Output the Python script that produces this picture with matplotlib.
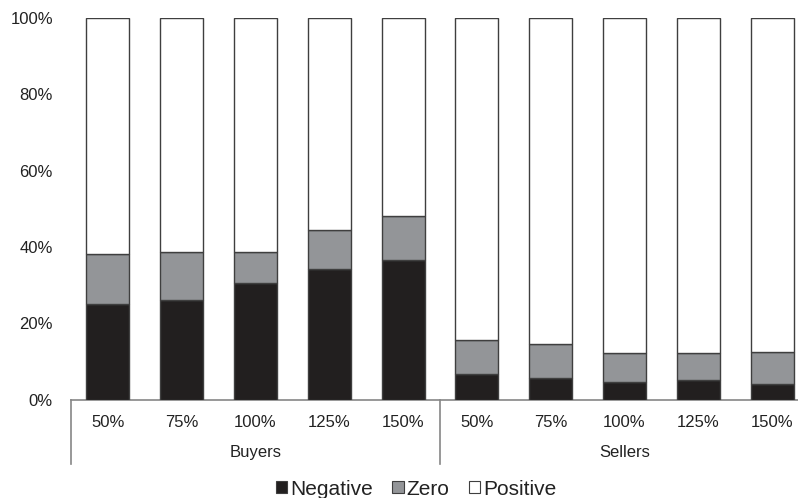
import matplotlib
matplotlib.use("Agg")
import matplotlib.pyplot as plt
from matplotlib.patches import Patch
import numpy as np

plt.rcParams['font.family'] = ['Liberation Sans', 'DejaVu Sans']

# data (percent of participants)
groups = ['Buyers', 'Sellers']
levels = ['50%', '75%', '100%', '125%', '150%']
negative = [25.1, 26.2, 30.5, 34.3, 36.6, 6.6, 5.6, 4.6, 5.1, 4.0]
zero = [13.0, 12.4, 8.2, 10.1, 11.5, 8.9, 9.0, 7.5, 7.0, 8.5]
positive = [100 - n - z for n, z in zip(negative, zero)]

col_neg = '#221f1f'
col_zero = '#939598'
col_pos = '#ffffff'
edge = '#3f3f3f'
txt = '#222222'

fig = plt.figure(figsize=(7.98, 4.98), dpi=100)
ax = fig.add_axes([71 / 798, 98.5 / 498, 738 / 798, 381.5 / 498])

x = np.arange(len(negative))
w = 0.58
bot = np.zeros(len(x))
for vals, c in [(negative, col_neg), (zero, col_zero), (positive, col_pos)]:
    ax.bar(x, vals, w, bottom=bot, color=c, edgecolor=edge, linewidth=1.0, zorder=3)
    bot += np.array(vals)

ax.set_xlim(-0.5, len(x) - 0.5)
ax.set_ylim(0, 100)
ax.set_yticks(range(0, 101, 20))
ax.set_yticklabels([f'{v}%' for v in range(0, 101, 20)], fontsize=12, color=txt)
ax.tick_params(axis='y', length=0, pad=13)
ax.tick_params(axis='x', length=0, pad=11)
ax.set_xticks(x)
ax.set_xticklabels(levels * len(groups), fontsize=12, color=txt)

for s in ['top', 'right', 'left']:
    ax.spines[s].set_visible(False)
ax.spines['bottom'].set_color('#868686')
ax.spines['bottom'].set_linewidth(1.2)

# group labels and separators below the axis
n = len(levels)
for i, g in enumerate(groups):
    ax.text(i * n + (n - 1) / 2, -13.8, g, ha='center', va='center',
            fontsize=12, color=txt, clip_on=False)
for i in range(len(groups) + 1):
    ax.plot([i * n - 0.5, i * n - 0.5], [0, -17], color='#868686', lw=1.2,
            clip_on=False)

handles = [Patch(facecolor=col_neg, edgecolor=edge, lw=0.8),
           Patch(facecolor=col_zero, edgecolor=edge, lw=0.8),
           Patch(facecolor=col_pos, edgecolor=edge, lw=0.8)]
leg = fig.legend(handles, ['Negative', 'Zero', 'Positive'], loc='center',
                 bbox_to_anchor=(416 / 798, 1 - 489 / 498), ncol=3, frameon=False,
                 fontsize=15, handlelength=0.55, handleheight=0.55,
                 handletextpad=0.12, columnspacing=0.95, borderpad=0)
for t in leg.get_texts():
    t.set_color(txt)

fig.savefig('out.png', dpi=100, facecolor='white')
